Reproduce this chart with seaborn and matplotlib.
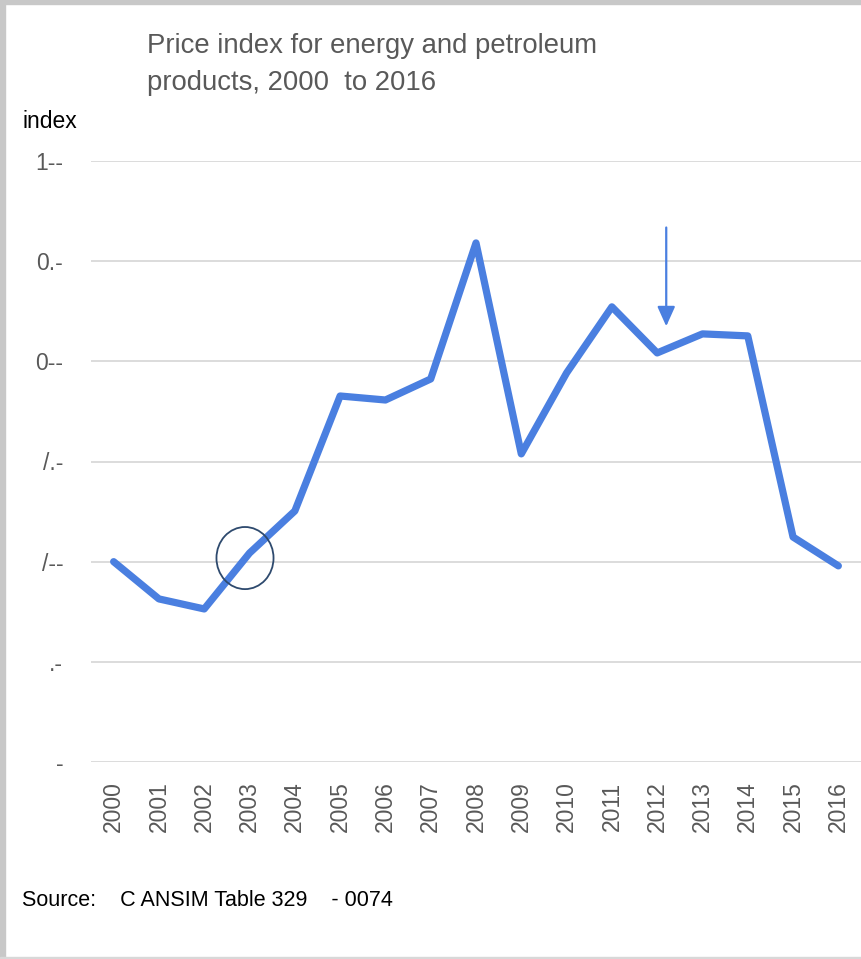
import matplotlib
matplotlib.use("Agg")
import matplotlib.pyplot as plt
import matplotlib.patches as mpatches
import seaborn as sns
import pandas as pd

years = [str(y) for y in range(2000, 2017)]
index_values = [100.0, 81.4, 76.4, 104.3, 125.3, 182.7, 180.7, 191.2, 259.1,
                153.8, 194.2, 227.2, 204.2, 213.7, 212.7, 112.3, 97.9]
ytick_values = [0, 50, 100, 150, 200, 250, 300]
ytick_labels = ["-", ".-", "/--", "/.-", "0--", "0.-", "1--"]

sns.set_theme(style="white")
plt.rcParams['font.family'] = ['Liberation Sans', 'DejaVu Sans']

df = pd.DataFrame({"year": years, "index": index_values})

fig = plt.figure(figsize=(8.61, 9.59), dpi=100)
ax = fig.add_axes([91/861, (959-762)/959, (861-91)/861, (762-161)/959])

line_color = "#4A7FE0"
sns.lineplot(data=df, x="year", y="index", ax=ax, color=line_color,
             linewidth=5.2, sort=False)
for ln in ax.lines:
    ln.set_solid_joinstyle("round")
    ln.set_solid_capstyle("round")

ax.set_xlim(-0.5, len(years) - 0.5)
ax.set_ylim(0, 300)
ax.set_yticks(ytick_values)
ax.set_yticklabels(ytick_labels, color="#595959", fontsize=16.5)
ax.set_xticks(range(len(years)))
ax.set_xticklabels(years, rotation=90, color="#595959", fontsize=16.5)
ax.tick_params(axis="y", length=0, pad=20)
ax.tick_params(axis="x", length=0, pad=14)
ax.yaxis.grid(True, color="#D9D9D9", linewidth=1.3)
ax.set_axisbelow(True)
for s in ax.spines.values():
    s.set_visible(False)
ax.set_xlabel("")
ax.set_ylabel("")

# Annotations: ellipse around 2003, arrow pointing at 2012
ell = mpatches.Ellipse((2.9, 101.8), width=1.26, height=31, fill=False,
                       edgecolor="#2E4A6E", linewidth=1.3, zorder=5)
ax.add_patch(ell)
ax.annotate("", xy=(12.2, 217.5), xytext=(12.2, 266.8),
            arrowprops=dict(arrowstyle="-|>,head_length=1.0,head_width=0.45",
                            color=line_color, lw=1.6, shrinkA=0, shrinkB=0))

fig.text(147/861, 1 - 46/959, "Price index for energy and petroleum",
         fontsize=19.8, color="#595959", va="center", ha="left")
fig.text(147/861, 1 - 83/959, "products, 2000  to 2016",
         fontsize=19.8, color="#595959", va="center", ha="left")
fig.text(22/861, 1 - 121/959, "index", fontsize=16.5, color="black",
         va="center", ha="left")
fig.text(22/861, 1 - 901/959, "Source:    C ANSIM Table 329    - 0074",
         fontsize=15.5, color="black", va="center", ha="left")

# Frame borders
fig.patches.append(mpatches.Rectangle((0, 1 - 4/959), 1, 4/959, transform=fig.transFigure,
                                      color="#C8C8C8", zorder=0))
fig.patches.append(mpatches.Rectangle((0, 0), 5/861, 1, transform=fig.transFigure,
                                      color="#C8C8C8", zorder=0))
fig.patches.append(mpatches.Rectangle((0, 0), 1, 2/959, transform=fig.transFigure,
                                      color="#D8D8D8", zorder=0))

fig.savefig("out.png", dpi=100)
